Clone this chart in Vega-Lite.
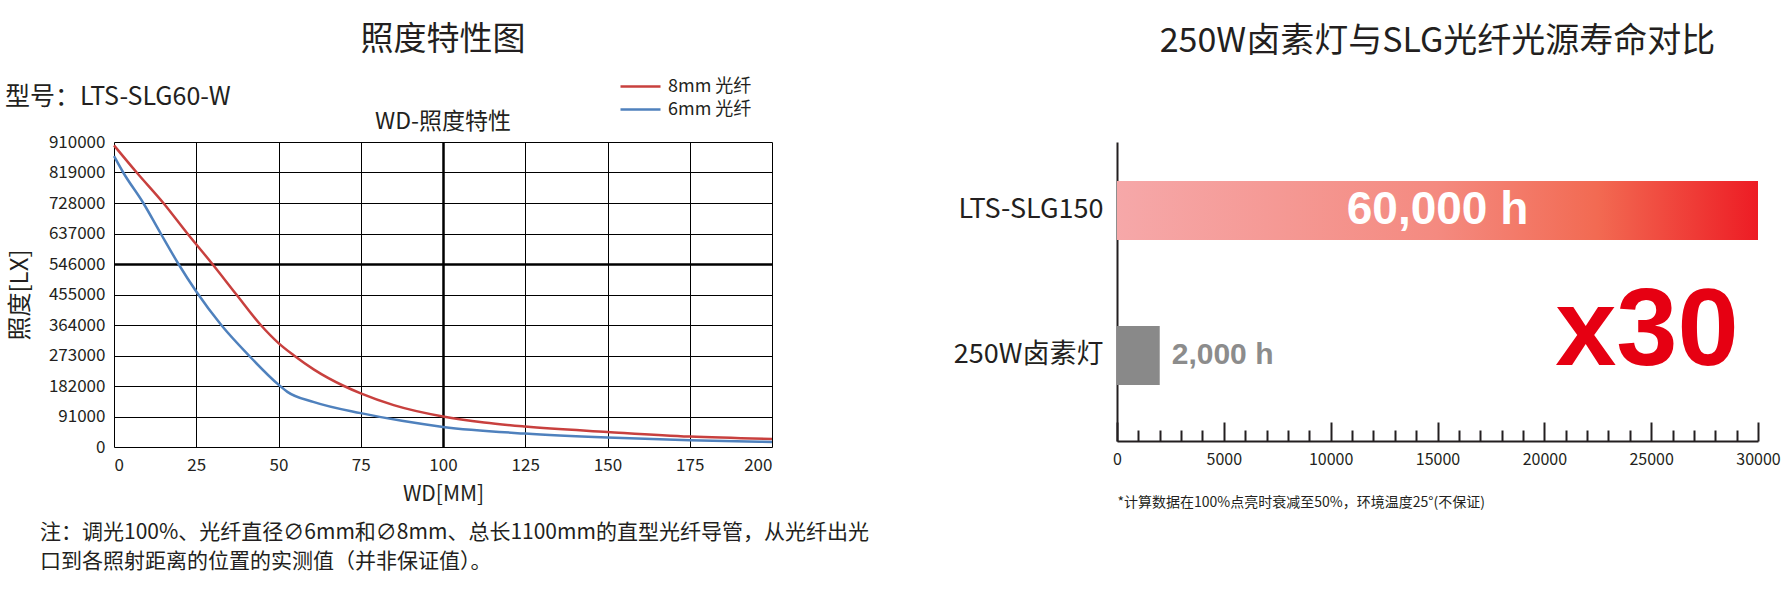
{
  "$schema": "https://vega.github.io/schema/vega-lite/v6.json",
  "background": "white",
  "padding": {"left": 5, "top": 24, "right": 5, "bottom": 5},
  "autosize": {"type": "pad"},
  "bounds": "flush",
  "spacing": 345,
  "config": {
    "font": "Liberation Sans Narrow, Noto Sans CJK SC, sans-serif",
    "view": {"stroke": null},
    "axis": {"labelColor": "#231f20", "titleColor": "#231f20", "titleFontWeight": "normal"},
    "title": {"color": "#231f20", "subtitleColor": "#231f20", "fontWeight": "normal"},
    "legend": {"labelColor": "#231f20"}
  },
  "hconcat": [
    {
      "width": 658,
      "height": 305,
      "title": {"text": "照度特性图", "subtitle": "WD-照度特性", "fontSize": 33, "subtitleFontSize": 23, "subtitlePadding": 54, "offset": -49, "anchor": "middle", "frame": "group"},
      "layer": [
        {
          "data": {"values": [
            {"series": "8mm 光纤", "wd": 0, "lux": 900000},
            {"series": "8mm 光纤", "wd": 6.9, "lux": 819000},
            {"series": "8mm 光纤", "wd": 15, "lux": 728000},
            {"series": "8mm 光纤", "wd": 22.3, "lux": 637000},
            {"series": "8mm 光纤", "wd": 29.9, "lux": 546000},
            {"series": "8mm 光纤", "wd": 37.2, "lux": 455000},
            {"series": "8mm 光纤", "wd": 44.6, "lux": 364000},
            {"series": "8mm 光纤", "wd": 50, "lux": 310000},
            {"series": "8mm 光纤", "wd": 54.7, "lux": 273000},
            {"series": "8mm 光纤", "wd": 60.8, "lux": 231000},
            {"series": "8mm 光纤", "wd": 69.9, "lux": 182000},
            {"series": "8mm 光纤", "wd": 75, "lux": 160000},
            {"series": "8mm 光纤", "wd": 85, "lux": 125000},
            {"series": "8mm 光纤", "wd": 100, "lux": 91000},
            {"series": "8mm 光纤", "wd": 112.5, "lux": 73000},
            {"series": "8mm 光纤", "wd": 125, "lux": 61000},
            {"series": "8mm 光纤", "wd": 150, "lux": 45000},
            {"series": "8mm 光纤", "wd": 175, "lux": 31000},
            {"series": "8mm 光纤", "wd": 200, "lux": 24000},
            {"series": "6mm 光纤", "wd": 0, "lux": 868000},
            {"series": "6mm 光纤", "wd": 2.8, "lux": 819000},
            {"series": "6mm 光纤", "wd": 8.9, "lux": 728000},
            {"series": "6mm 光纤", "wd": 14.2, "lux": 637000},
            {"series": "6mm 光纤", "wd": 19.6, "lux": 546000},
            {"series": "6mm 光纤", "wd": 25, "lux": 464000},
            {"series": "6mm 光纤", "wd": 32.6, "lux": 364000},
            {"series": "6mm 光纤", "wd": 41, "lux": 273000},
            {"series": "6mm 光纤", "wd": 50, "lux": 186000},
            {"series": "6mm 光纤", "wd": 52.7, "lux": 164500},
            {"series": "6mm 光纤", "wd": 60.8, "lux": 134000},
            {"series": "6mm 光纤", "wd": 75, "lux": 101000},
            {"series": "6mm 光纤", "wd": 87.5, "lux": 78000},
            {"series": "6mm 光纤", "wd": 100, "lux": 60000},
            {"series": "6mm 光纤", "wd": 125, "lux": 40000},
            {"series": "6mm 光纤", "wd": 150, "lux": 28000},
            {"series": "6mm 光纤", "wd": 175, "lux": 20000},
            {"series": "6mm 光纤", "wd": 200, "lux": 15000}
          ]},
          "mark": {"type": "line", "strokeWidth": 2.5, "interpolate": "monotone"},
          "encoding": {
            "x": {
              "field": "wd", "type": "quantitative",
              "scale": {"domain": [0, 200], "nice": false},
              "axis": {
                "values": [0, 25, 50, 75, 100, 125, 150, 175, 200],
                "tickCount": 20,
                "grid": true, "gridColor": "#000000",
                "gridWidth": {"condition": {"test": "datum.value === 100", "value": 2.5}, "value": 1},
                "gridOpacity": 1,
                "ticks": false, "domain": false,
                "labelFontSize": 17, "labelPadding": 10, "labelOverlap": false,
                "title": "WD[MM]", "titleFontSize": 21, "titlePadding": 10
              }
            },
            "y": {
              "field": "lux", "type": "quantitative",
              "scale": {"domain": [0, 910000], "nice": false},
              "axis": {
                "values": [0, 91000, 182000, 273000, 364000, 455000, 546000, 637000, 728000, 819000, 910000],
                "tickCount": 20,
                "format": "d",
                "grid": true, "gridColor": "#000000",
                "gridWidth": {"condition": {"test": "datum.value === 546000", "value": 2.5}, "value": 1},
                "gridOpacity": 1,
                "ticks": false, "domain": false,
                "labelFontSize": 17, "labelPadding": 9, "labelOverlap": false,
                "title": "照度[LX]", "titleFontSize": 24, "titlePadding": 16
              }
            },
            "color": {
              "field": "series", "type": "nominal",
              "scale": {"domain": ["8mm 光纤", "6mm 光纤"], "range": ["#c8403e", "#4f81bd"]},
              "legend": {
                "orient": "none", "legendX": 505, "legendY": -67, "title": null,
                "symbolType": "M-1,0L3,0", "symbolSize": 400, "symbolStrokeWidth": 2.5,
                "labelFontSize": 18, "labelOffset": 26, "rowPadding": 2
              }
            }
          }
        },
        {
          "data": {"values": [{}]},
          "mark": {"type": "text", "text": "型号：LTS-SLG60-W", "align": "left", "baseline": "middle", "dx": -109, "dy": -45, "fontSize": 25, "color": "#231f20"},
          "encoding": {"x": {"datum": 0}, "y": {"datum": 910000}}
        },
        {
          "data": {"values": [{}]},
          "mark": {"type": "text", "text": ["注：调光100%、光纤直径∅6mm和∅8mm、总长1100mm的直型光纤导管，从光纤出光", "口到各照射距离的位置的实测值（并非保证值）。"], "align": "left", "baseline": "top", "dx": -74, "dy": 75, "lineHeight": 29, "fontSize": 21, "color": "#231f20"},
          "encoding": {"x": {"datum": 0}, "y": {"datum": 0}}
        }
      ]
    },
    {
      "width": 641,
      "height": 299,
      "title": {"text": "250W卤素灯与SLG光纤光源寿命对比", "fontSize": 34, "offset": 83, "anchor": "middle", "frame": "group"},
      "data": {"values": [
        {"source": "LTS-SLG150", "hours": 60000, "label": "60,000 h", "ratio": ""},
        {"source": "250W卤素灯", "hours": 2000, "label": "2,000 h", "ratio": "x30"}
      ]},
      "encoding": {
        "y": {
          "field": "source", "type": "nominal", "sort": null,
          "scale": {"domain": ["LTS-SLG150", "250W卤素灯"], "paddingInner": 0.593, "paddingOuter": 0.3277, "align": 0.41},
          "axis": {"title": null, "ticks": false, "labelFontSize": 27, "labelPadding": 14, "domainColor": "#231f20", "domainWidth": 2}
        },
        "x": {
          "field": "hours", "type": "quantitative",
          "scale": {"domain": [0, 30000], "nice": false},
          "axis": {
            "values": [0, 1000, 2000, 3000, 4000, 5000, 6000, 7000, 8000, 9000, 10000, 11000, 12000, 13000, 14000, 15000, 16000, 17000, 18000, 19000, 20000, 21000, 22000, 23000, 24000, 25000, 26000, 27000, 28000, 29000, 30000],
            "tickCount": 40,
            "format": "d",
            "labelExpr": "datum.value % 5000 === 0 ? datum.label : ''",
            "labelOverlap": false, "labelFlush": false,
            "tickSize": {"condition": {"test": "datum.value % 5000 === 0", "value": -19}, "value": -11},
            "tickWidth": 2, "tickColor": "#231f20",
            "domainColor": "#231f20", "domainWidth": 2,
            "grid": false,
            "labelFontSize": 16, "labelPadding": 29,
            "title": "*计算数据在100%点亮时衰减至50%，环境温度25°(不保证)",
            "titleAnchor": "start", "titleFontSize": 14, "titlePadding": 20
          }
        }
      },
      "layer": [
        {
          "transform": [{"filter": "datum.source === 'LTS-SLG150'"}],
          "mark": {"type": "bar", "clip": true, "color": {"gradient": "linear", "x1": 0, "x2": 1, "y1": 0, "y2": 0, "stops": [
            {"offset": 0, "color": "#f6a8a9"},
            {"offset": 0.25, "color": "#f48a80"},
            {"offset": 0.375, "color": "#f26a52"},
            {"offset": 0.5, "color": "#ed1c24"},
            {"offset": 1, "color": "#ed1c24"}
          ]}}
        },
        {
          "transform": [{"filter": "datum.source === '250W卤素灯'"}],
          "mark": {"type": "bar", "color": "#898989"}
        },
        {
          "transform": [{"filter": "datum.source === 'LTS-SLG150'"}],
          "mark": {"type": "text", "color": "#ffffff", "fontSize": 46, "fontWeight": "bold", "font": "Liberation Sans, sans-serif"},
          "encoding": {"x": {"datum": 15000}, "text": {"field": "label"}}
        },
        {
          "transform": [{"filter": "datum.source === '250W卤素灯'"}],
          "mark": {"type": "text", "align": "left", "dx": 12, "color": "#8c8c8c", "fontSize": 30, "fontWeight": "bold", "font": "Liberation Sans, sans-serif"},
          "encoding": {"text": {"field": "label"}}
        },
        {
          "transform": [{"filter": "datum.source === '250W卤素灯'"}],
          "mark": {"type": "text", "align": "center", "baseline": "alphabetic", "dy": 10, "color": "#e60012", "fontSize": 110, "fontWeight": "bold", "font": "Liberation Sans, sans-serif"},
          "encoding": {"x": {"datum": 24800}, "text": {"field": "ratio"}}
        }
      ]
    }
  ]
}
